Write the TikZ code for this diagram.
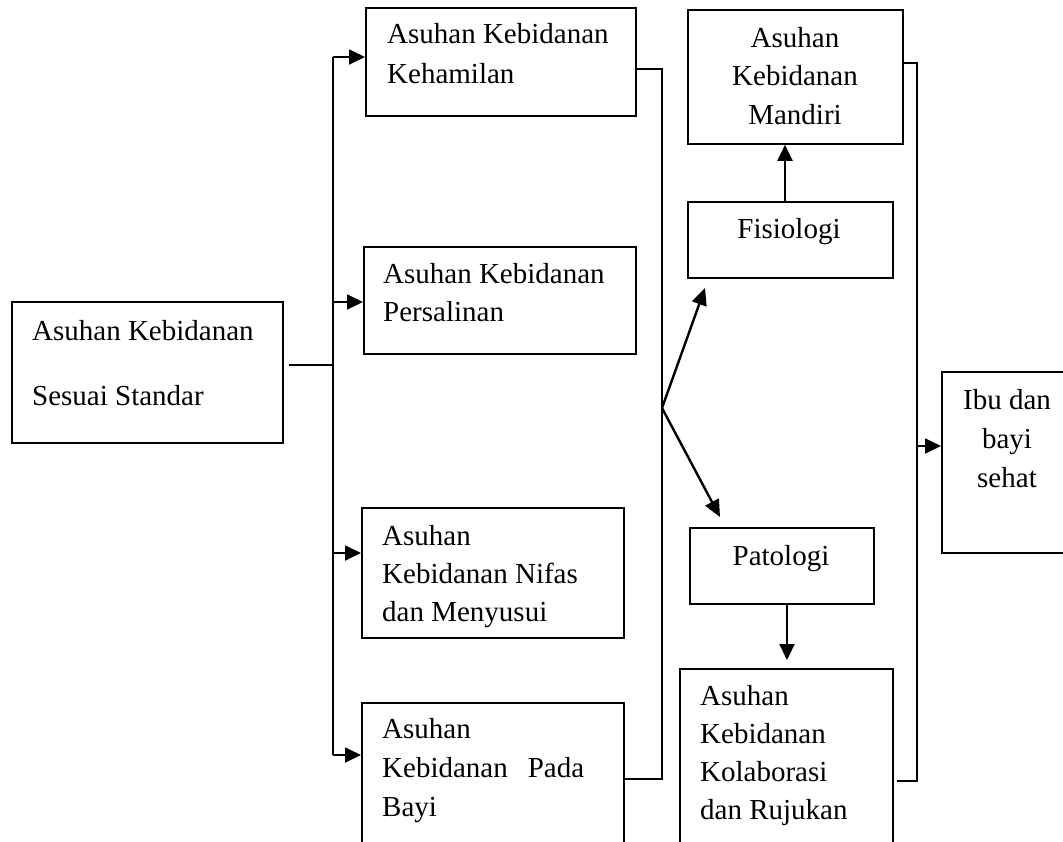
\documentclass[tikz,border=0pt]{standalone}
\usepackage{fontspec}
\setmainfont{Liberation Serif}
\usetikzlibrary{arrows.meta}
\newcommand{\fs}[1]{\fontsize{29}{#1}\selectfont}
\tikzset{
  box/.style={draw, line width=1.8pt, inner sep=0pt, anchor=north west},
  txt/.style={inner sep=0pt, anchor=base west, font=\fs{38}},
  ctxt/.style={inner sep=0pt, anchor=base, font=\fs{38}},
  conn/.style={line width=1.8pt},
  arr/.style={line width=1.8pt, -{Triangle[length=16pt,width=15pt]}},
  darr/.style={line width=2.4pt, -{Triangle[length=17pt,width=15pt]}},
}
\begin{document}
\begin{tikzpicture}[x=1pt,y=-1pt]
\useasboundingbox (0,0) rectangle (1063,841);
\clip (0,0) rectangle (1063,841);
\fill[white] (0,0) rectangle (1063,841);

% boxes
\node[box, minimum width=271pt, minimum height=141pt] (src) at (11,301) {};
\node[box, minimum width=270pt, minimum height=108pt] (keh) at (365,7) {};
\node[box, minimum width=272pt, minimum height=107pt] (per) at (363,246) {};
\node[box, minimum width=262pt, minimum height=130pt] (nif) at (361,507) {};
\node[box, minimum width=262pt, minimum height=170pt] (bay) at (361,702) {};
\node[box, minimum width=215pt, minimum height=134pt] (man) at (687,9) {};
\node[box, minimum width=205pt, minimum height=76pt] (fis) at (687,201) {};
\node[box, minimum width=184pt, minimum height=76pt] (pat) at (689,527) {};
\node[box, minimum width=213pt, minimum height=200pt] (kol) at (679,668) {};
\node[box, minimum width=140pt, minimum height=181pt] (ibu) at (941,371) {};

% texts
\node[txt] (tsrc) at (32,340) {\parbox[t]{240pt}{\fs{65}\raggedright Asuhan Kebidanan\\Sesuai Standar}};
\node[txt] (tkeh) at (387,43) {\parbox[t]{240pt}{\fs{40}\raggedright Asuhan Kebidanan\\Kehamilan}};
\node[txt] (tper) at (383,283) {\parbox[t]{240pt}{\fs{38.5}\raggedright Asuhan Kebidanan\\Persalinan}};
\node[txt] (tnif) at (382,545) {\parbox[t]{230pt}{\fs{38.3}\raggedright Asuhan\\Kebidanan Nifas\\dan Menyusui}};
\node[txt] (tbay) at (382,738) {\parbox[t]{230pt}{\fs{39}\raggedright Asuhan\\Kebidanan\hspace{20pt}Pada\\Bayi}};
\node[ctxt] (tman) at (795,47) {\parbox[t]{200pt}{\fs{38.5}\centering Asuhan\\Kebidanan\\Mandiri}};
\node[ctxt] (tfis) at (789,238) {Fisiologi};
\node[ctxt] (tpat) at (781,565) {Patologi};
\node[txt] (tkol) at (700,705) {\parbox[t]{190pt}{\fs{38.3}\raggedright Asuhan\\Kebidanan\\Kolaborasi\\dan Rujukan}};
\node[ctxt] (tibu) at (1007,409) {\parbox[t]{120pt}{\fs{39}\centering Ibu dan\\bayi\\sehat}};

% coordinates
\coordinate (trunk) at (333,365);
\coordinate (j) at (662,408);
\coordinate (fistip) at (705,288);
\coordinate (pattip) at (720,517);

% left trunk
\draw[conn, shorten <=5pt] (src.east |- trunk) -- (trunk);
\draw[conn] (333,57) -- (333,755);
\draw[arr] (333,57) -- (keh.west |- 0,57);
\draw[arr] (333,302) -- (per.west |- 0,302);
\draw[arr] (333,553) -- (nif.west |- 0,553);
\draw[arr] (333,755) -- (bay.west |- 0,755);

% middle collector
\draw[conn] (keh.east |- 0,69) -- (662,69) -- (662,779) -- (bay.east |- 0,779);
\draw[darr] (j) -- (fistip);
\draw[darr] (j) -- (pattip);

% vertical arrows
\draw[arr, line width=2.2pt] (fis.north -| 785,0) -- (man.south -| 785,0);
\draw[arr, line width=2.2pt, shorten >=8pt] (pat.south -| 787,0) -- (kol.north -| 787,0);

% right collector
\draw[conn, shorten <=3pt] (kol.east |- 0,781) -- (917,781) -- (917,63) -- (man.east |- 0,63);
\draw[arr] (917,446) -- (ibu.west |- 0,446);
\end{tikzpicture}
\end{document}
